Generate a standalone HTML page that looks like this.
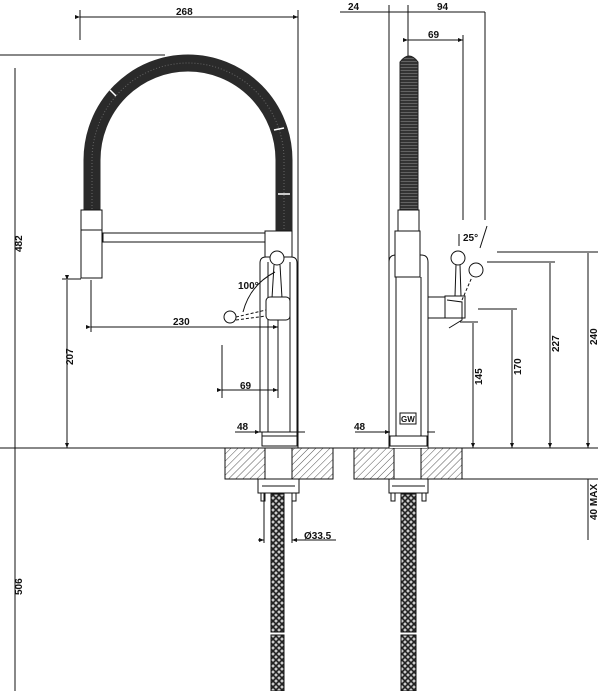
<!DOCTYPE html>
<html><head><meta charset="utf-8"><style>
html,body{margin:0;padding:0;background:#fff;}
svg{display:block;}
text{font-family:"Liberation Sans",sans-serif;font-weight:bold;font-size:10px;fill:#111;}
</style></head><body>
<svg width="600" height="691" viewBox="0 0 600 691" xmlns="http://www.w3.org/2000/svg">
<defs>
<pattern id="hat" width="5" height="5" patternUnits="userSpaceOnUse" patternTransform="rotate(45)">
<line x1="0" y1="0" x2="0" y2="5" stroke="#555" stroke-width="1"/></pattern>
<pattern id="braid" width="6" height="6" patternUnits="userSpaceOnUse">
<rect width="6" height="6" fill="#ccc"/>
<path d="M0,0 L6,6 M6,0 L0,6" stroke="#222" stroke-width="1.6"/></pattern>
<pattern id="coil" width="4" height="3" patternUnits="userSpaceOnUse">
<rect width="4" height="3" fill="#333"/><line x1="0" y1="1.5" x2="4" y2="1.5" stroke="#777" stroke-width="0.7"/></pattern>
<marker id="a" markerWidth="6" markerHeight="6" refX="5" refY="3" orient="auto"><path d="M0,1 L5,3 L0,5z" fill="#111"/></marker>
</defs>
<g stroke="#111" stroke-width="1" fill="none">
<line x1="0" y1="448" x2="598" y2="448"/>
<line x1="462" y1="479" x2="598" y2="479"/>
<rect x="225" y="448" width="108" height="31" fill="url(#hat)"/>
<rect x="265" y="448" width="27" height="31" fill="#fff"/>
<rect x="354" y="448" width="108" height="31" fill="url(#hat)"/>
<rect x="394" y="448" width="27" height="31" fill="#fff"/>

<line x1="0" y1="55" x2="165" y2="55"/>
<line x1="15" y1="68" x2="15" y2="448"/>
<line x1="15" y1="448" x2="15" y2="691"/>
<line x1="80" y1="10" x2="80" y2="40"/>
<line x1="298" y1="10" x2="298" y2="448"/>
<line x1="80" y1="17" x2="298" y2="17" marker-start="url(#a)" marker-end="url(#a)"/>
<line x1="67" y1="280" x2="67" y2="448" marker-start="url(#a)" marker-end="url(#a)"/>
<line x1="62" y1="279" x2="81" y2="279"/>

<path d="M92,212 L92,160 A96,97 0 0 1 284,160 L284,232" stroke="#2a2a2a" stroke-width="17"/>
<path d="M92,212 L92,160 A96,97 0 0 1 284,160 L284,232" stroke="#666" stroke-width="1" stroke-dasharray="1 2"/>
<line x1="110" y1="90" x2="116" y2="96" stroke="#fff" stroke-width="1.5"/>
<line x1="274" y1="130" x2="284" y2="128" stroke="#fff" stroke-width="1.5"/>
<line x1="278" y1="194" x2="290" y2="194" stroke="#fff" stroke-width="1.5"/>
<rect x="81" y="210" width="21" height="68" fill="#fff"/>
<line x1="81" y1="230" x2="102" y2="230"/>
<rect x="103" y="233" width="162" height="9" fill="#fff"/>
<rect x="265" y="231" width="27" height="27" fill="#fff"/>
<path d="M260,432 L260,263 Q260,257 266,257 L291,257 Q297,257 297,263 L297,432 Z" fill="#fff"/>
<line x1="268" y1="262" x2="268" y2="432"/>
<line x1="290" y1="262" x2="290" y2="432"/>
<circle cx="277" cy="258" r="7" fill="#fff"/>
<line x1="274" y1="265" x2="272" y2="298"/><line x1="280" y1="265" x2="282" y2="298"/>
<rect x="266" y="297" width="24" height="23" rx="4" fill="#fff"/>
<circle cx="230" cy="317" r="6" fill="#fff"/>
<line x1="236" y1="317" x2="266" y2="310" stroke-dasharray="3 2"/>
<line x1="236" y1="320" x2="266" y2="316" stroke-dasharray="3 2"/>
<path d="M243,312 Q250,285 275,272"/>
<rect x="262" y="432" width="35" height="14" fill="#fff"/>
<line x1="262" y1="436" x2="297" y2="436"/>
<line x1="91" y1="280" x2="91" y2="332"/>
<line x1="278" y1="320" x2="278" y2="398"/>
<line x1="91" y1="327" x2="278" y2="327" marker-start="url(#a)" marker-end="url(#a)"/>
<line x1="222" y1="345" x2="222" y2="398"/>
<line x1="222" y1="390" x2="278" y2="390" marker-start="url(#a)" marker-end="url(#a)"/>
<line x1="235" y1="432" x2="260" y2="432" marker-end="url(#a)"/>
<line x1="297" y1="432" x2="305" y2="432"/>
<rect x="258" y="479" width="41" height="14" fill="#fff"/>
<line x1="262" y1="486" x2="295" y2="486"/>
<rect x="261" y="493" width="4" height="8"/><rect x="292" y="493" width="4" height="8"/>
<rect x="271" y="494" width="13" height="138" fill="url(#braid)"/>
<rect x="271" y="635" width="13" height="56" fill="url(#braid)"/>
<line x1="264" y1="493" x2="264" y2="543"/><line x1="292" y1="493" x2="292" y2="543"/>
<line x1="258" y1="540" x2="264" y2="540" marker-end="url(#a)"/>
<line x1="336" y1="540" x2="292" y2="540" marker-end="url(#a)"/>

<line x1="340" y1="12" x2="485" y2="12"/>
<line x1="389" y1="5" x2="389" y2="448"/>
<line x1="408" y1="5" x2="408" y2="60"/>
<line x1="485" y1="12" x2="485" y2="220"/>
<line x1="408" y1="40" x2="463" y2="40" marker-start="url(#a)" marker-end="url(#a)"/>
<line x1="463" y1="35" x2="463" y2="220"/>
<path d="M400,210 L400,62 Q409,50 418,62 L418,210 Z" fill="url(#coil)" stroke="#222"/>
<rect x="398" y="210" width="21" height="21" fill="#fff"/>
<path d="M389,448 L389,262 Q389,255 396,255 L421,255 Q428,255 428,262 L428,448" fill="#fff"/>
<rect x="395" y="231" width="25" height="46" fill="#fff"/>
<line x1="396" y1="277" x2="396" y2="436"/>
<line x1="421" y1="277" x2="421" y2="436"/>
<rect x="428" y="297" width="18" height="21" fill="#fff"/>
<rect x="445" y="296" width="20" height="22" fill="#fff"/>
<path d="M447,300 L462,302 L462,320 L449,328"/>
<circle cx="458" cy="258" r="7" fill="#fff"/>
<line x1="456" y1="265" x2="455" y2="296"/><line x1="460" y1="265" x2="461" y2="296"/>
<circle cx="476" cy="270" r="7" fill="#fff"/>
<line x1="462" y1="300" x2="472" y2="277" stroke-dasharray="3 2"/>
<path d="M459,246 L459,234 M487,226 L480,248"/>
<rect x="390" y="436" width="37" height="10" fill="#fff"/>
<line x1="355" y1="432" x2="390" y2="432" marker-end="url(#a)"/>
<line x1="427" y1="432" x2="435" y2="432"/>
<line x1="497" y1="252" x2="598" y2="252"/>
<line x1="487" y1="262" x2="555" y2="262"/>
<line x1="478" y1="309" x2="517" y2="309"/>
<line x1="460" y1="322" x2="478" y2="322"/>
<line x1="473" y1="323" x2="473" y2="448" marker-end="url(#a)"/>
<line x1="512" y1="310" x2="512" y2="448" marker-end="url(#a)"/>
<line x1="550" y1="263" x2="550" y2="448" marker-end="url(#a)"/>
<line x1="588" y1="253" x2="588" y2="448" marker-end="url(#a)"/>
<line x1="588" y1="479" x2="588" y2="540"/>
<rect x="389" y="479" width="39" height="14" fill="#fff"/>
<line x1="392" y1="486" x2="425" y2="486"/>
<rect x="391" y="493" width="4" height="8"/><rect x="422" y="493" width="4" height="8"/>
<rect x="401" y="494" width="15" height="138" fill="url(#braid)"/>
<rect x="401" y="635" width="15" height="56" fill="url(#braid)"/>
</g>
<rect x="400" y="413" width="16" height="11" fill="#fff" stroke="#111"/>
<text x="401" y="422" style="font-size:8px">GW</text>
<text x="176" y="15">268</text>
<text x="12" y="262" transform="rotate(-90 12 252)">482</text>
<text x="12" y="605" transform="rotate(-90 12 595)">506</text>
<text x="63" y="375" transform="rotate(-90 63 365)">207</text>
<text x="173" y="325">230</text>
<text x="240" y="389">69</text>
<text x="238" y="289">100°</text>
<text x="237" y="430">48</text>
<text x="304" y="539">Ø33.5</text>
<text x="348" y="10">24</text>
<text x="437" y="10">94</text>
<text x="428" y="38">69</text>
<text x="463" y="241">25°</text>
<text x="354" y="430">48</text>
<text x="472" y="395" transform="rotate(-90 472 385)">145</text>
<text x="511" y="385" transform="rotate(-90 511 375)">170</text>
<text x="549" y="362" transform="rotate(-90 549 352)">227</text>
<text x="587" y="355" transform="rotate(-90 587 345)">240</text>
<text x="587" y="530" transform="rotate(-90 587 520)">40 MAX</text>
</svg>
</body></html>
